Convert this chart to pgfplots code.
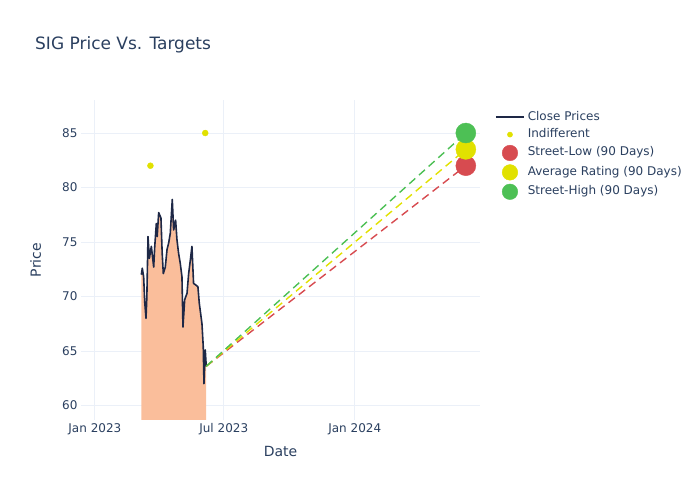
\documentclass[border=0pt]{standalone}
\usepackage{pgfplots}
\pgfplotsset{compat=1.18}
\usepackage{fontspec}
\setmainfont{DejaVu Sans}
\definecolor{txt}{HTML}{2A3F5F}
\definecolor{gridc}{HTML}{EBF0F8}
\definecolor{closec}{RGB}{30,40,70}
\definecolor{fillc}{RGB}{250,190,155}
\definecolor{lowc}{RGB}{215,75,80}
\definecolor{avgc}{RGB}{225,225,0}
\definecolor{highc}{RGB}{77,192,85}
\begin{document}
\begin{tikzpicture}[x=1pt,y=1pt]
\useasboundingbox (0,0) rectangle (700,500);
\node[anchor=base west, inner sep=0pt, text=txt, font=\fontsize{17}{20}\selectfont] at (35,450) {SIG Price Vs. Targets};
\begin{axis}[
  at={(81pt,80pt)}, anchor=south west,
  width=399pt, height=320pt, scale only axis,
  xmin=-19.5, xmax=540.9, ymin=58.67, ymax=88.03,
  axis line style={draw=none},
  major tick length=0pt,
  grid=major,
  major grid style={color=gridc, line width=1pt},
  xtick={0,181,365},
  xticklabels={Jan 2023,Jul 2023,Jan 2024},
  ytick={60,65,70,75,80,85},
  /pgf/number format/assume math mode=true,
  tick label style={font=\fontsize{12}{14}\selectfont, text=txt},
  xlabel={Date}, ylabel={Price},
  label style={font=\fontsize{14}{16}\selectfont, text=txt},
  xlabel style={at={(rel axis cs:0.5,0)}, anchor=base, yshift=-36pt},
  ylabel style={at={(rel axis cs:0,0.5)}, anchor=base, yshift=40pt},
  legend cell align=left,
  legend style={at={(1.03,0.975)}, anchor=north west, draw=none, fill=none,
    font=\fontsize{12}{14}\selectfont, text=txt, row sep=3.4pt,
    nodes={inner ysep=1pt, inner xsep=3pt, text height=9pt, text depth=3pt}},
]
\addplot[fill=fillc, draw=none, forget plot] coordinates {
(65.2,72.0)(66.6,72.6)(68.5,71.8)(70,69.5)(71.8,68.0)(73,70)(74.6,75.5)(76.5,73.5)(79.3,74.6)(82.6,72.7)(84,74.5)(86.3,76.7)(87.5,75.5)(89.6,77.7)(92.8,77.2)(94.5,74)(96.1,72.1)(98.9,72.7)(101.3,74.3)(103.6,74.9)(105.9,75.8)(108.7,78.9)(110.6,76.1)(113.4,77.0)(115.3,75.2)(117.5,74)(120,73.0)(122.3,71.8)(123.7,67.2)(126.1,69.7)(129.4,70.3)(131.7,72.1)(134,73.3)(136.3,74.6)(138.6,71.2)(141.9,71.05)(144.7,70.9)(146.6,69.4)(150.4,67.5)(152.2,65.4)(153.2,62.0)(155,65.1)(156.4,63.6)
} \closedcycle;
\addplot[color=closec, line width=1.6pt, line join=round,
  legend image code/.code={\draw[color=closec, line width=1.6pt] (0pt,0pt) -- (28pt,0pt);}] coordinates {
(65.2,72.0)(66.6,72.6)(68.5,71.8)(70,69.5)(71.8,68.0)(73,70)(74.6,75.5)(76.5,73.5)(79.3,74.6)(82.6,72.7)(84,74.5)(86.3,76.7)(87.5,75.5)(89.6,77.7)(92.8,77.2)(94.5,74)(96.1,72.1)(98.9,72.7)(101.3,74.3)(103.6,74.9)(105.9,75.8)(108.7,78.9)(110.6,76.1)(113.4,77.0)(115.3,75.2)(117.5,74)(120,73.0)(122.3,71.8)(123.7,67.2)(126.1,69.7)(129.4,70.3)(131.7,72.1)(134,73.3)(136.3,74.6)(138.6,71.2)(141.9,71.05)(144.7,70.9)(146.6,69.4)(150.4,67.5)(152.2,65.4)(153.2,62.0)(155,65.1)(156.4,63.6)
};
\addlegendentry{Close Prices}
\addplot[color=avgc, only marks, mark=*, mark size=3pt, mark options={solid, fill=avgc},
  legend image code/.code={\fill[avgc] (14pt,0pt) circle (2.6pt);}] coordinates {(78,82)(155,85)};
\addlegendentry{Indifferent}
\addplot[lowc, line width=1.4pt, dash pattern=on 8pt off 5pt, forget plot] coordinates {(156.4,63.6)(521,82)};
\addplot[avgc, line width=1.4pt, dash pattern=on 8pt off 5pt, forget plot] coordinates {(156.4,63.6)(521,83.5)};
\addplot[highc, line width=1.4pt, dash pattern=on 8pt off 5pt, forget plot] coordinates {(156.4,63.6)(521,85)};
\addplot[color=lowc, only marks, mark=*, mark size=10pt, mark options={solid, fill=lowc},
  legend image code/.code={\fill[lowc] (14pt,0pt) circle (7.8pt);}] coordinates {(521,82)};
\addlegendentry{Street-Low (90 Days)}
\addplot[color=avgc, only marks, mark=*, mark size=10pt, mark options={solid, fill=avgc},
  legend image code/.code={\fill[avgc] (14pt,0pt) circle (7.8pt);}] coordinates {(521,83.5)};
\addlegendentry{Average Rating (90 Days)}
\addplot[color=highc, only marks, mark=*, mark size=10pt, mark options={solid, fill=highc},
  legend image code/.code={\fill[highc] (14pt,0pt) circle (7.8pt);}] coordinates {(521,85)};
\addlegendentry{Street-High (90 Days)}
\end{axis}
\end{tikzpicture}
\end{document}
